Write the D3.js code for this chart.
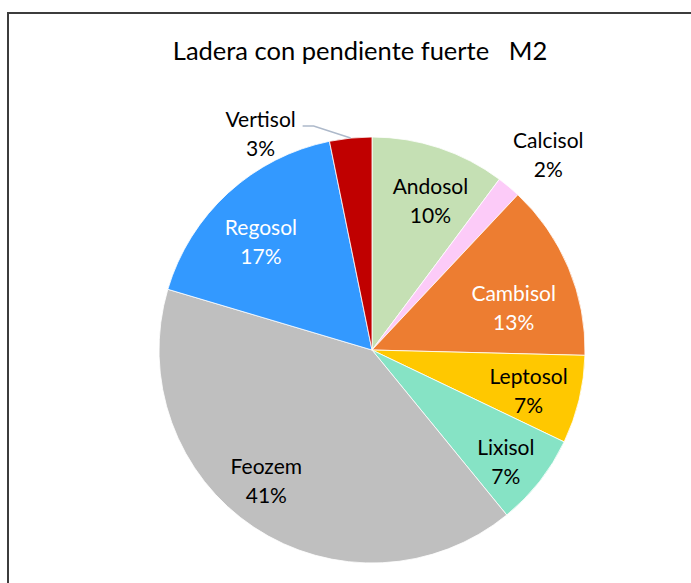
<!DOCTYPE html>
<html>
<head>
<meta charset="utf-8">
<script src="https://cdn.jsdelivr.net/npm/d3@7"></script>
<style>
  body { margin: 0; background: #fff; }
  svg { display: block; font-family: Lato, "Open Sans", sans-serif; }
</style>
</head>
<body>
<svg id="chart"></svg>
<script>
// soil types, clockwise from 12 o'clock
const soils = ["Andosol", "Calcisol", "Cambisol", "Leptosol", "Lixisol", "Feozem", "Regosol", "Vertisol"];
const shares = [10.2, 1.8, 13.4, 6.7, 7.0, 40.5, 17.2, 3.2];
const colors = ["#c5e0b4", "#fccbf8", "#ed7d31", "#ffc800", "#86e3c5", "#bfbfbf", "#3399ff", "#c00000"];
const whiteText = ["Cambisol", "Regosol"];
const title = "Ladera con pendiente fuerte   M2";

const width = 691, height = 583;
const cx = 372, cy = 350, radius = 213;

// small hand nudges so labels sit where the spreadsheet's "best fit" put them
const nudge = {
  Andosol: [8, 3], Calcisol: [8, 6], Cambisol: [-6, 20], Leptosol: [1, 4],
  Lixisol: [8, 13], Feozem: [-17, -2], Regosol: [-3, 10], Vertisol: [0, -1]
};

const svg = d3.select("#chart").attr("width", width).attr("height", height);

// outer frame, runs off the bottom/right edge like the original crop
svg.append("rect")
  .attr("x", 8).attr("y", 13)
  .attr("width", 720).attr("height", 620)
  .attr("fill", "none")
  .attr("stroke", "#3c3c3c")
  .attr("stroke-width", 2);

svg.append("text")
  .attr("x", 360).attr("y", 60)
  .attr("text-anchor", "middle")
  .attr("font-size", 25.5)
  .style("white-space", "pre")
  .attr("fill", "#000")
  .text(title);

const data = soils.map((s, i) => ({ name: s, value: shares[i], color: colors[i] }));

const pie = d3.pie().value(d => d.value).sort(null);
const arcs = pie(data);

const arc = d3.arc().innerRadius(0).outerRadius(radius);

const g = svg.append("g").attr("transform", `translate(${cx},${cy})`);

g.selectAll("path")
  .data(arcs)
  .enter()
  .append("path")
  .attr("d", arc)
  .attr("fill", d => d.data.color)
  .attr("stroke", "#fff")
  .attr("stroke-width", 0.8);

const midAngle = d => (d.startAngle + d.endAngle) / 2;
const polar = (r, a) => [r * Math.sin(a), -r * Math.cos(a)];

// label anchor: inside slices at fixed radius, small slices outside
function labelPos(d) {
  let p;
  if (d.data.name === "Calcisol") p = polar(262, midAngle(d));
  else if (d.data.name === "Vertisol") {
    const e = polar(radius, midAngle(d));
    p = [e[0] - 90, e[1] - 3];
  } else p = polar(160, midAngle(d));
  const n = nudge[d.data.name] || [0, 0];
  return [p[0] + n[0], p[1] + n[1]];
}

// leader line for Vertisol
const vert = arcs.find(d => d.data.name === "Vertisol");
const vp = polar(radius, midAngle(vert));
g.append("polyline")
  .attr("points", [vp, [vp[0] - 37, vp[1] - 12], [vp[0] - 48, vp[1] - 12]].map(p => p.join(",")).join(" "))
  .attr("fill", "none")
  .attr("stroke", "#adb9ca")
  .attr("stroke-width", 1.5);

const labels = g.selectAll("g.lbl")
  .data(arcs)
  .enter()
  .append("g")
  .attr("class", "lbl")
  .attr("transform", d => `translate(${labelPos(d)})`);

labels.append("text")
  .attr("text-anchor", "middle")
  .attr("y", -7)
  .attr("font-size", 21)
  .attr("fill", d => whiteText.includes(d.data.name) ? "#fff" : "#000")
  .text(d => d.data.name);

labels.append("text")
  .attr("text-anchor", "middle")
  .attr("y", 22)
  .attr("font-size", 21)
  .attr("fill", d => whiteText.includes(d.data.name) ? "#fff" : "#000")
  .text(d => Math.round(d.data.value) + "%");
</script>
</body>
</html>
